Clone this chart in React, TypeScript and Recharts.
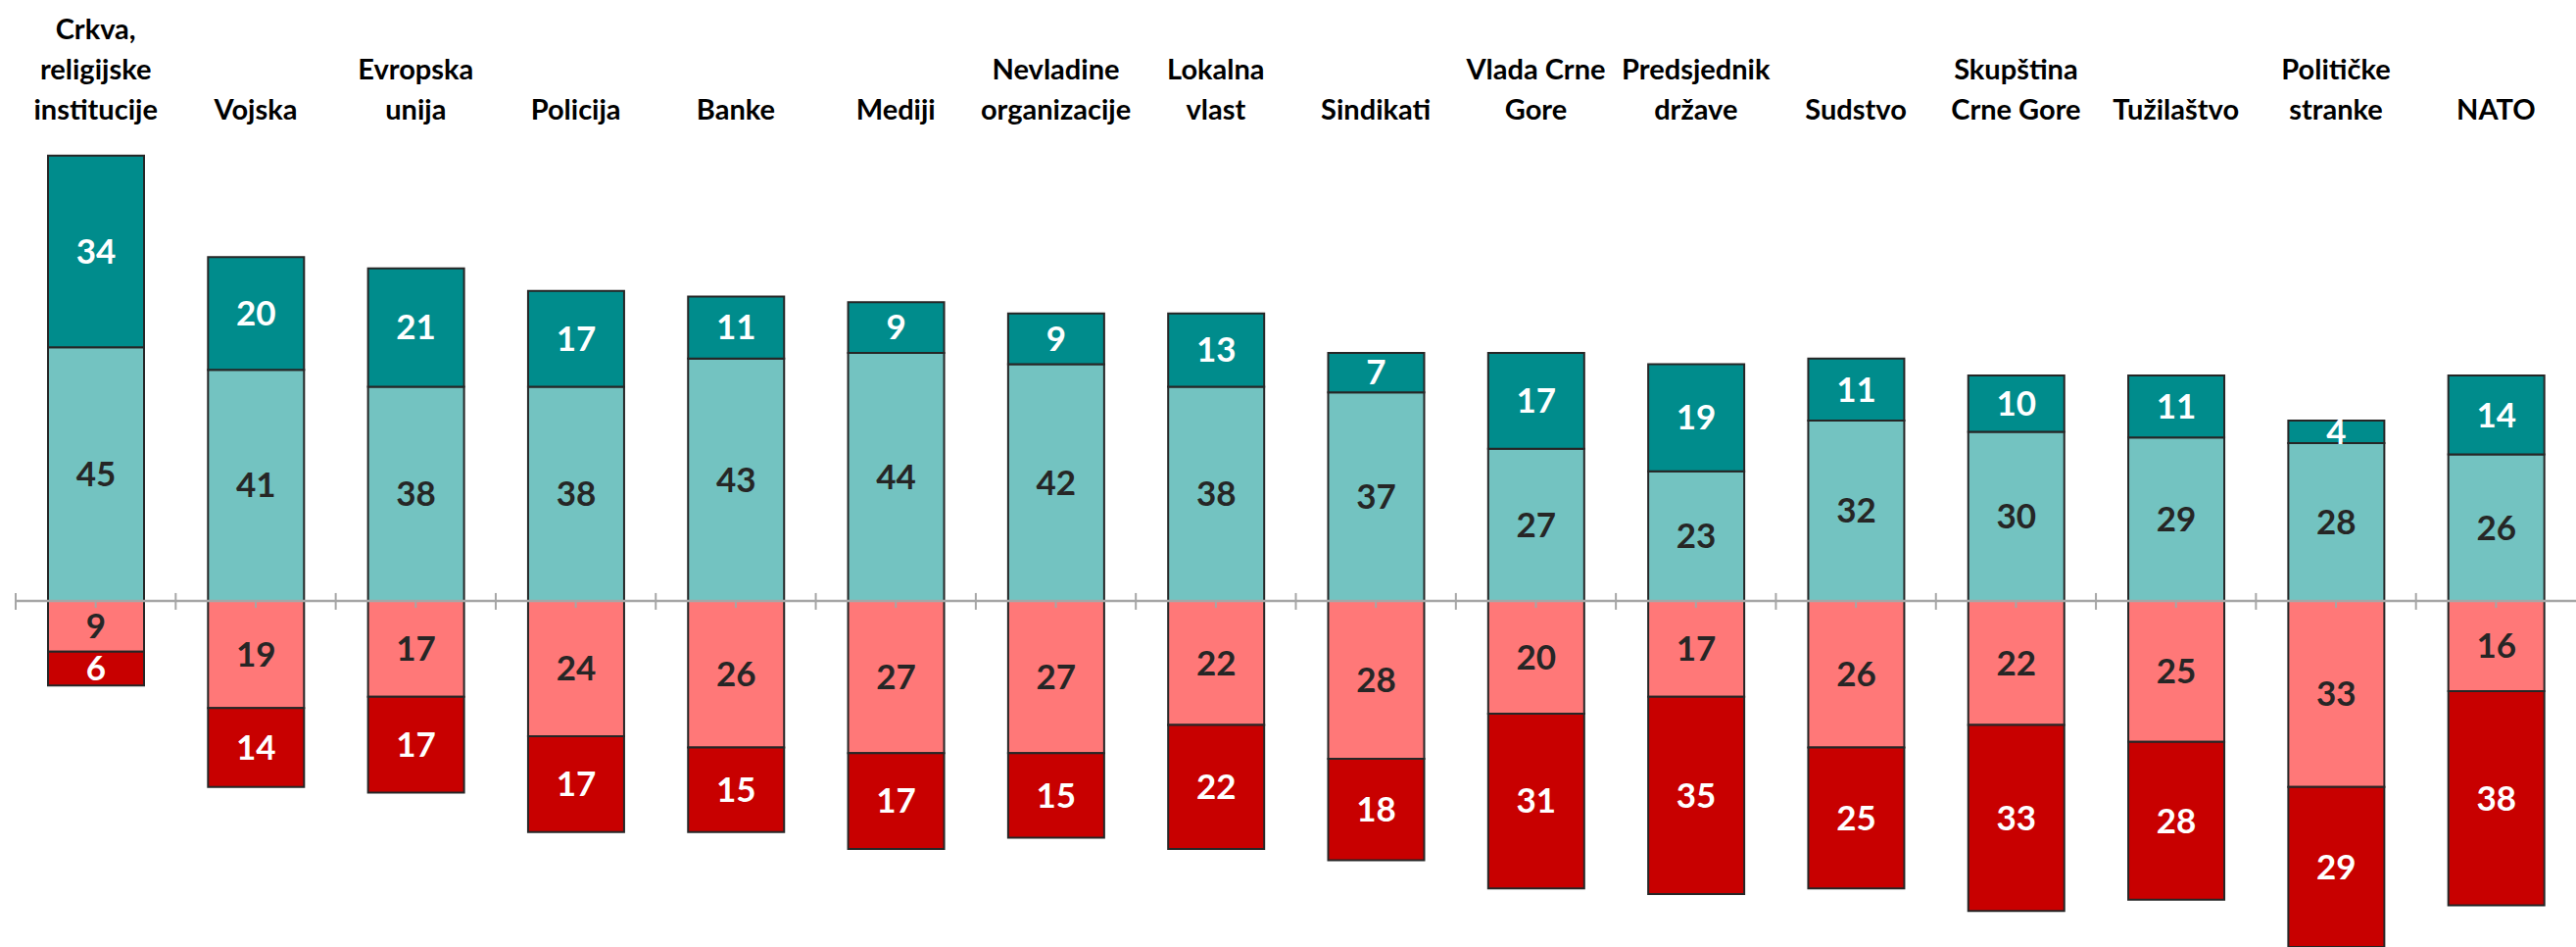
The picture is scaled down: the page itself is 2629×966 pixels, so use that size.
import React from 'react';
import { BarChart, Bar, XAxis, YAxis, LabelList, ReferenceLine } from 'recharts';

const categories = [
  'Crkva,\nreligijske\ninstitucije',
  'Vojska',
  'Evropska\nunija',
  'Policija',
  'Banke',
  'Mediji',
  'Nevladine\norganizacije',
  'Lokalna\nvlast',
  'Sindikati',
  'Vlada Crne\nGore',
  'Predsjednik\ndržave',
  'Sudstvo',
  'Skupština\nCrne Gore',
  'Tužilaštvo',
  'Političke\nstranke',
  'NATO',
];

// positive side (dark teal on top, light teal next to the axis)
const trustHigh = [34, 20, 21, 17, 11, 9, 9, 13, 7, 17, 19, 11, 10, 11, 4, 14];
const trustSome = [45, 41, 38, 38, 43, 44, 42, 38, 37, 27, 23, 32, 30, 29, 28, 26];
// negative side (light red next to the axis, dark red below)
const distrustSome = [9, 19, 17, 24, 26, 27, 27, 22, 28, 20, 17, 26, 22, 25, 33, 16];
const distrustHigh = [6, 14, 17, 17, 15, 17, 15, 22, 18, 31, 35, 25, 33, 28, 29, 38];

const data = categories.map((name, i) => ({
  name,
  trustSome: trustSome[i],
  trustHigh: trustHigh[i],
  distrustSome: -distrustSome[i],
  distrustHigh: -distrustHigh[i],
}));

const FONT = 'Lato, "Open Sans", sans-serif';
const absLabel = (v: any) => Math.abs(Number(v));

const CategoryTick = (props: any) => {
  const { x, y, payload } = props;
  const lines = String(payload.value).split('\n');
  const lastBaseline = y - 20;
  return (
    <text
      x={x}
      y={lastBaseline}
      textAnchor="middle"
      fontFamily={FONT}
      fontWeight={700}
      fontSize={29}
      fill="#000"
    >
      {lines.map((ln, i) => (
        <tspan key={i} x={x} y={lastBaseline - (lines.length - 1 - i) * 41}>
          {ln}
        </tspan>
      ))}
    </text>
  );
};

// zero line with category boundary ticks and small center ticks
const ZeroAxis = (props: any) => {
  const { x1, x2, y1 } = props;
  const n = categories.length;
  const step = (x2 - x1) / n;
  const marks = [];
  for (let i = 0; i < n; i++) {
    marks.push(<line key={`b${i}`} x1={x1 + i * step} x2={x1 + i * step} y1={y1 - 8} y2={y1 + 9} stroke="#A6A6A6" strokeWidth={2} />);
    marks.push(<line key={`c${i}`} x1={x1 + (i + 0.5) * step} x2={x1 + (i + 0.5) * step} y1={y1} y2={y1 + 7} stroke="#A6A6A6" strokeWidth={2} />);
  }
  return (
    <g>
      <line x1={x1} x2={x2} y1={y1} y2={y1} stroke="#A6A6A6" strokeWidth={2.5} />
      {marks}
    </g>
  );
};

export default function App() {
  return (
    <div style={{ position: 'absolute', left: 0, top: 0, background: '#fff', fontFamily: FONT }}>
      <BarChart
        width={2629}
        height={966}
        data={data}
        stackOffset="sign"
        barSize={98}
        margin={{ top: 0, right: 0, bottom: 0, left: 16 }}
      >
        <XAxis
          dataKey="name"
          orientation="top"
          height={142}
          axisLine={false}
          tickLine={false}
          tickSize={0}
          tickMargin={0}
          interval={0}
          tick={<CategoryTick />}
        />
        <YAxis hide domain={[-61.4, 81.9]} allowDataOverflow />
        <Bar dataKey="trustSome" stackId="a" fill="#73C3C1" stroke="#262626" strokeWidth={2} isAnimationActive={false}>
          <LabelList dataKey="trustSome" position="center" formatter={absLabel} fill="#262626" fontFamily={FONT} fontWeight={700} fontSize={35} />
        </Bar>
        <Bar dataKey="trustHigh" stackId="a" fill="#008C8C" stroke="#262626" strokeWidth={2} isAnimationActive={false}>
          <LabelList dataKey="trustHigh" position="center" formatter={absLabel} fill="#FFFFFF" fontFamily={FONT} fontWeight={700} fontSize={35} />
        </Bar>
        <Bar dataKey="distrustSome" stackId="a" fill="#FF7878" stroke="#262626" strokeWidth={2} isAnimationActive={false}>
          <LabelList dataKey="distrustSome" position="center" formatter={absLabel} fill="#262626" fontFamily={FONT} fontWeight={700} fontSize={35} />
        </Bar>
        <Bar dataKey="distrustHigh" stackId="a" fill="#C80000" stroke="#262626" strokeWidth={2} isAnimationActive={false}>
          <LabelList dataKey="distrustHigh" position="center" formatter={absLabel} fill="#FFFFFF" fontFamily={FONT} fontWeight={700} fontSize={35} />
        </Bar>
        <ReferenceLine y={0} shape={<ZeroAxis />} />
      </BarChart>
    </div>
  );
}
